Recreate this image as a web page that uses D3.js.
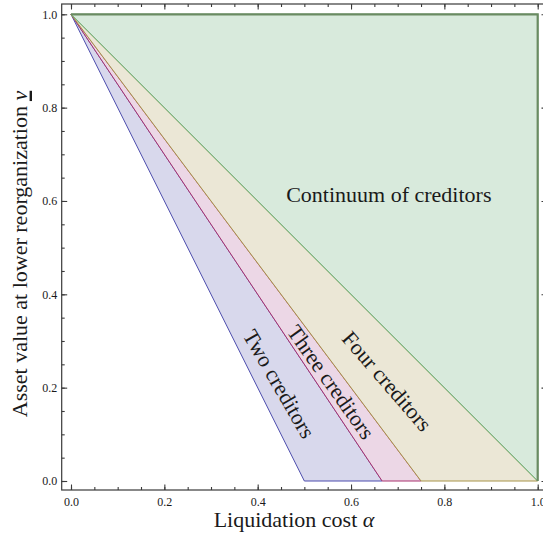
<!DOCTYPE html>
<html><head><meta charset="utf-8">
<script src="https://cdn.jsdelivr.net/npm/d3@7"></script>
<style>
body{margin:0;background:#fff}
svg{display:block}
text{font-family:"Liberation Serif","Times New Roman",serif;fill:#1a1a1a}
</style>
</head><body>
<svg id="c" width="543" height="533"></svg>
<script>
// ---- data ----
const regionNames = ["Two creditors", "Three creditors", "Four creditors", "Continuum of creditors"];
const alphaIntercepts = [0.5, 2/3, 0.75, 1.0];   // α at which the boundary reaches v = 0
const fillColors = ["#d8d8ec", "#ecd7e6", "#ebe7d6", "#d8eadc"];
const lineColors = ["#4d4dad", "#a8336f", "#a8944a", "#5ba96c"];
const labelAlpha = [0.446, 0.557, 0.677, 0.681];
const labelV = [0.208, 0.212, 0.214, 0.614];
const tickValues = [0, 0.2, 0.4, 0.6, 0.8, 1.0];
const tickLabels = ["0.0", "0.2", "0.4", "0.6", "0.8", "1.0"];
const xTitle = "Liquidation cost ";
const yTitle = "Asset value at lower reorganization ";

// ---- layout ----
const svg = d3.select("#c");
const x = d3.scaleLinear().domain([0, 1]).range([71, 537.7]);
const y = d3.scaleLinear().domain([0, 1]).range([481, 14.3]);
const frame = {l: 61.7, t: 4, r: 547, b: 490};

// regions
const polys = [];
for (let k = 0; k < 3; k++) {
  polys.push([[0, 1], [alphaIntercepts[k], 0], [alphaIntercepts[k + 1], 0]]);
}
polys.push([[0, 1], [alphaIntercepts[3], 0], [alphaIntercepts[3], 1]]);

const line = d3.line().x(d => x(d[0])).y(d => y(d[1]));
svg.selectAll("path.region").data(polys).join("path")
  .attr("class", "region")
  .attr("d", d => line(d) + "Z")
  .attr("fill", (d, i) => fillColors[i])
  .attr("stroke", (d, i) => lineColors[i])
  .attr("stroke-width", 1)
  .attr("stroke-linejoin", "round");

// thick outer edges of the continuum region
svg.append("path")
  .attr("d", line([[0, 1], [1, 1], [1, 0]]))
  .attr("fill", "none").attr("stroke", "#6a8b62").attr("stroke-width", 2.2);

// labels inside regions
const ang = b => Math.atan2(y(0) - y(1), x(b) - x(0)) * 180 / Math.PI;
const lineAngles = alphaIntercepts.map(ang);
regionNames.forEach((name, i) => {
  const a = i < 3 ? (lineAngles[i] + lineAngles[i + 1]) / 2 : 0;
  svg.append("text")
    .attr("transform", `translate(${x(labelAlpha[i])},${y(labelV[i])}) rotate(${a})`)
    .attr("text-anchor", "middle")
    .attr("dominant-baseline", "central")
    .attr("font-size", 22)
    .text(name);
});

// frame
svg.append("rect")
  .attr("x", frame.l).attr("y", frame.t)
  .attr("width", frame.r - frame.l).attr("height", frame.b - frame.t)
  .attr("fill", "none").attr("stroke", "#3a3a3a").attr("stroke-width", 1.2);

// axes
const minorTicks = x.ticks(20);
function styleAxis(g) {
  g.select(".domain").remove();
  g.attr("font-family", null).attr("font-size", null);
  g.selectAll(".tick line").attr("stroke", "#3a3a3a").attr("stroke-width", 1.1);
  g.selectAll("text")
    .style("font-family", '"Liberation Serif", serif')
    .style("font-size", "12px")
    .style("fill", "#1a1a1a");
}
const fmt = d => tickLabels[tickValues.findIndex(t => Math.abs(t - d) < 1e-9)];

svg.append("g").attr("transform", `translate(0,${frame.b})`)
  .call(d3.axisBottom(x).tickValues(minorTicks).tickSize(-3).tickFormat("")).call(styleAxis);
svg.append("g").attr("transform", `translate(0,${frame.b})`)
  .call(d3.axisBottom(x).tickValues(tickValues).tickSize(-5.5).tickPadding(7).tickFormat(fmt)).call(styleAxis);
svg.append("g").attr("transform", `translate(0,${frame.t})`)
  .call(d3.axisTop(x).tickValues(minorTicks).tickSize(-3).tickFormat("")).call(styleAxis);
svg.append("g").attr("transform", `translate(0,${frame.t})`)
  .call(d3.axisTop(x).tickValues(tickValues).tickSize(-5.5).tickFormat("")).call(styleAxis);

svg.append("g").attr("transform", `translate(${frame.l},0)`)
  .call(d3.axisLeft(y).tickValues(minorTicks).tickSize(-3).tickFormat("")).call(styleAxis);
svg.append("g").attr("transform", `translate(${frame.l},0)`)
  .call(d3.axisLeft(y).tickValues(tickValues).tickSize(-5.5).tickPadding(4.5).tickFormat(fmt)).call(styleAxis);
svg.append("g").attr("transform", `translate(${frame.r},0)`)
  .call(d3.axisRight(y).tickValues(minorTicks).tickSize(-3).tickFormat("")).call(styleAxis);
svg.append("g").attr("transform", `translate(${frame.r},0)`)
  .call(d3.axisRight(y).tickValues(tickValues).tickSize(-5.5).tickFormat("")).call(styleAxis);

// axis titles
const xt = svg.append("text").attr("x", 294).attr("y", 527)
  .attr("text-anchor", "middle").attr("font-size", 22);
xt.append("tspan").text(xTitle);
xt.append("tspan").attr("font-style", "italic").text("α");

const yg = svg.append("g").attr("transform", "translate(27,254) rotate(-90)");
const yt = yg.append("text").attr("x", 0).attr("y", 0)
  .attr("text-anchor", "middle").attr("font-size", 22);
yt.append("tspan").text(yTitle);
yt.append("tspan").attr("font-style", "italic").text("v");
const node = yt.node();
const total = node.getComputedTextLength();
const n = node.getNumberOfChars();
const vw = node.getSubStringLength(n - 1, 1);
yg.append("rect")
  .attr("x", total / 2 - vw - 0.5).attr("y", 2.6)
  .attr("width", vw + 0.5).attr("height", 2.4)
  .attr("fill", "#1a1a1a");
</script>
</body></html>
